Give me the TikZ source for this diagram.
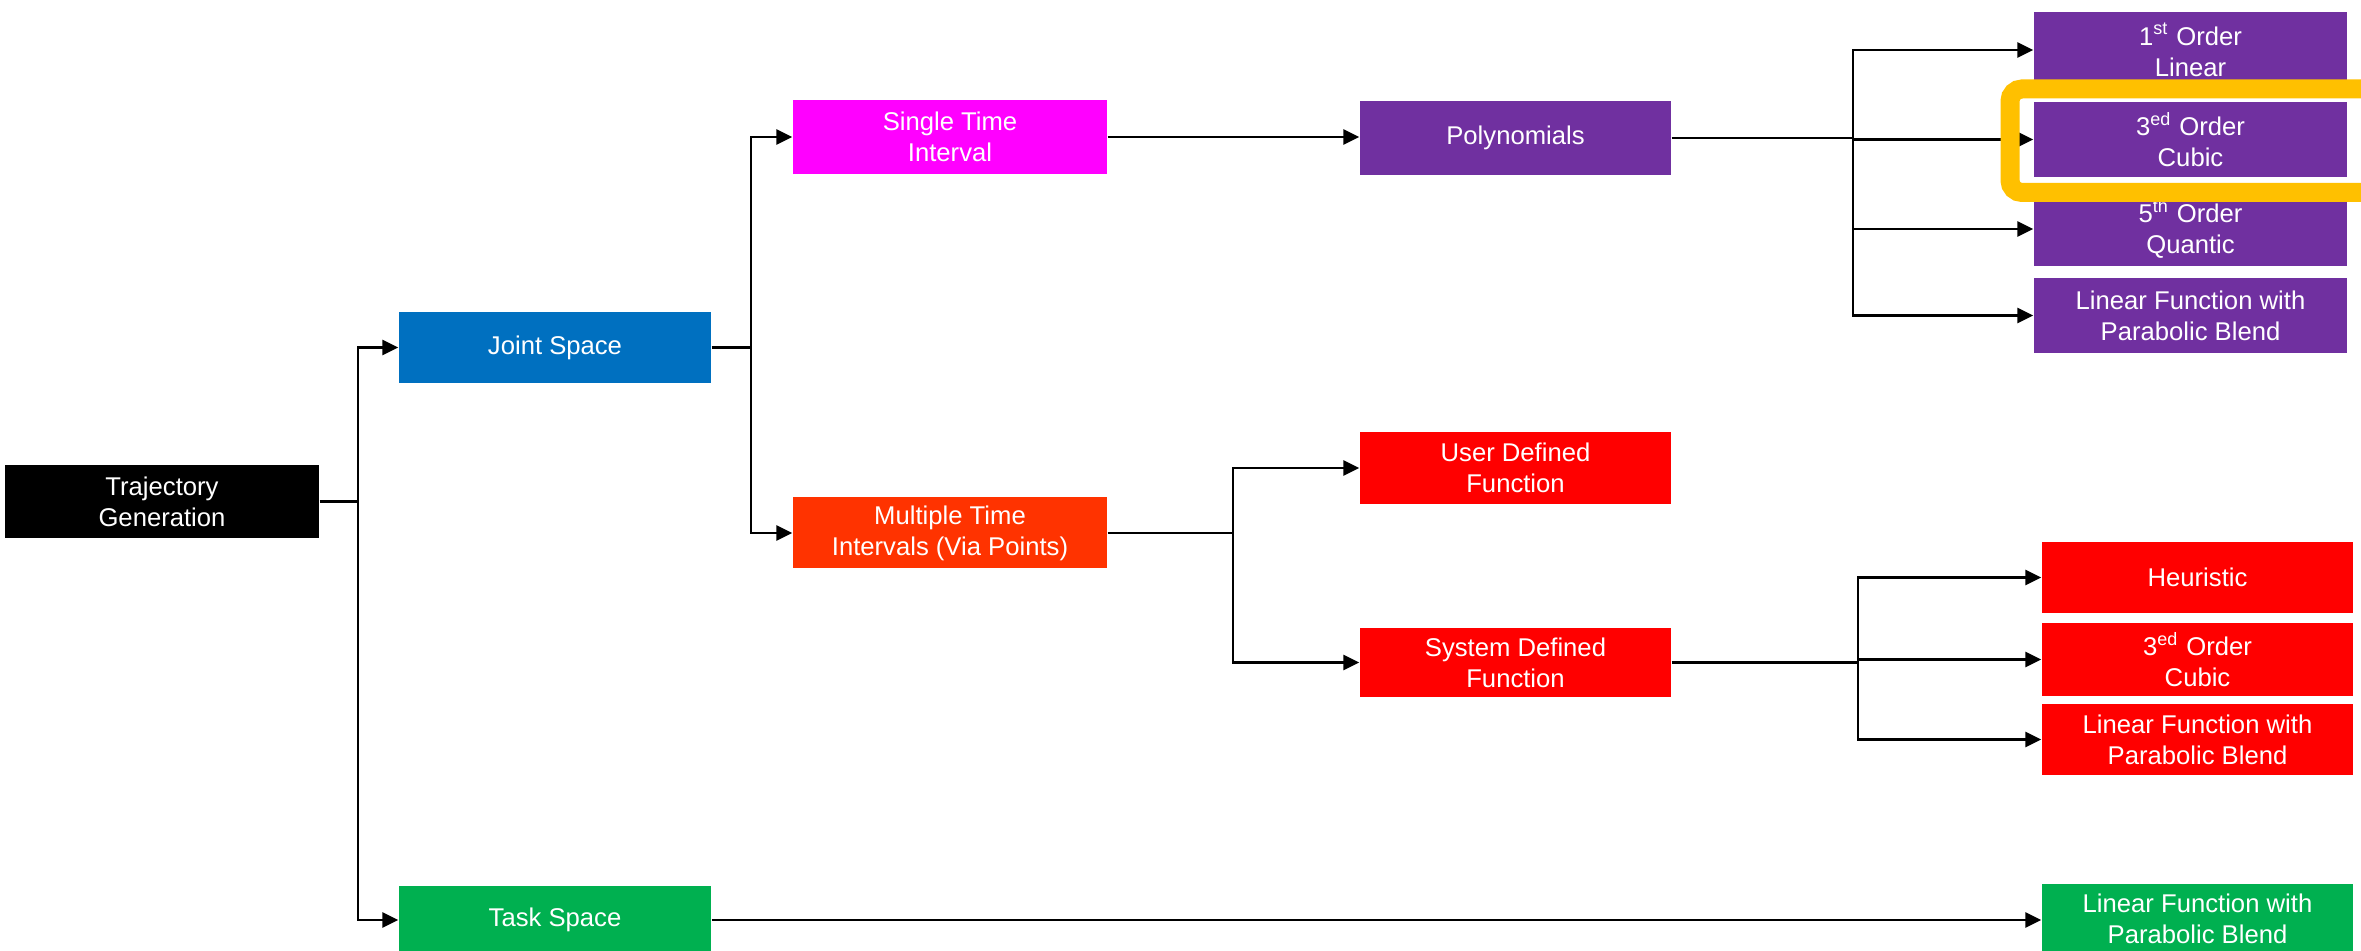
\documentclass[tikz,border=0pt]{standalone}
\usepackage{fontspec}
\setmainfont{Liberation Sans}
\usetikzlibrary{arrows.meta}
\definecolor{cpurple}{HTML}{7030A0}
\definecolor{cmagenta}{HTML}{FF00FF}
\definecolor{cblue}{HTML}{0070C0}
\definecolor{corange}{HTML}{FF3300}
\definecolor{cred}{HTML}{FF0000}
\definecolor{cgreen}{HTML}{00B050}
\definecolor{cyellow}{HTML}{FFC000}
\tikzset{
  box/.style={rectangle, inner sep=0pt, text=white, align=center,
    font=\fontsize{7.3}{8.8}\selectfont, minimum width=3.12cm},
  arr/.style={line width=0.8pt, -{Triangle[length=0.16cm,width=0.15cm]}},
  ln/.style={line width=0.8pt},
}
\begin{document}
\begin{tikzpicture}
\useasboundingbox (0,0) rectangle (23.61,-9.51);
\begin{scope}
\clip (0,0) rectangle (23.61,-9.51);
% nodes
\node[box, fill=black, minimum width=3.14cm, minimum height=0.73cm] (tg) at (1.62,-5.015) {Trajectory\\Generation};
\node[box, fill=cblue, minimum height=0.71cm] (js) at (5.55,-3.475) {Joint Space};
\node[box, fill=cgreen, minimum height=0.68cm] (ts) at (5.55,-9.20) {Task Space};
\node[box, fill=cmagenta, minimum width=3.14cm, minimum height=0.74cm] (sti) at (9.50,-1.37) {Single Time\\Interval};
\node[box, fill=corange, minimum width=3.14cm, minimum height=0.71cm] (mti) at (9.50,-5.33) {Multiple Time\\Intervals (Via Points)};
\node[box, fill=cpurple, minimum width=3.11cm, minimum height=0.74cm] (poly) at (15.155,-1.38) {Polynomials};
\node[box, fill=cred, minimum width=3.11cm, minimum height=0.72cm] (udf) at (15.155,-4.68) {User Defined\\Function};
\node[box, fill=cred, minimum width=3.11cm, minimum height=0.69cm] (sdf) at (15.155,-6.625) {System Defined\\Function};
\node[box, fill=cpurple, minimum width=3.13cm, minimum height=0.76cm] (p1) at (21.905,-0.50) {1\textsuperscript{st} Order\\Linear};
\node[box, fill=cpurple, minimum width=3.13cm, minimum height=0.75cm] (p3) at (21.905,-1.395) {3\textsuperscript{ed} Order\\Cubic};
\node[box, fill=cpurple, minimum width=3.13cm, minimum height=0.74cm] (p5) at (21.905,-2.29) {5\textsuperscript{th} Order\\Quantic};
\node[box, fill=cpurple, minimum width=3.13cm, minimum height=0.75cm] (pl) at (21.905,-3.155) {Linear Function with\\Parabolic Blend};
\node[box, fill=cred, minimum width=3.11cm, minimum height=0.71cm] (rh) at (21.975,-5.775) {Heuristic};
\node[box, fill=cred, minimum width=3.11cm, minimum height=0.73cm] (r3) at (21.975,-6.595) {3\textsuperscript{ed} Order\\Cubic};
\node[box, fill=cred, minimum width=3.11cm, minimum height=0.71cm] (rl) at (21.975,-7.395) {Linear Function with\\Parabolic Blend};
\node[box, fill=cgreen, minimum width=3.11cm, minimum height=0.70cm] (gl) at (21.975,-9.19) {Linear Function with\\Parabolic Blend};
% connectors
\coordinate (t1) at (3.58,0);
\coordinate (t2) at (7.51,0);
\coordinate (t3) at (18.53,0);
\coordinate (t4) at (12.33,0);
\coordinate (t5) at (18.58,0);
\draw[ln] (tg.east) -- (tg.east -| t1);
\draw[arr] (tg.east -| t1) |- (js.west);
\draw[arr] (tg.east -| t1) |- (ts.west);
\draw[ln] (js.east) -- (js.east -| t2);
\draw[arr] (js.east -| t2) |- (sti.west);
\draw[arr] (js.east -| t2) |- (mti.west);
\draw[arr] (sti.east) -- (sti.east -| poly.west);
\draw[ln] (poly.east) -- (poly.east -| t3);
\draw[arr] (poly.east -| t3) |- (p1.west);
\draw[arr] (poly.east -| t3) |- (p3.west);
\draw[arr] (poly.east -| t3) |- (p5.west);
\draw[arr] (poly.east -| t3) |- (pl.west);
\draw[ln] (mti.east) -- (mti.east -| t4);
\draw[arr] (mti.east -| t4) |- (udf.west);
\draw[arr] (mti.east -| t4) |- (sdf.west);
\draw[ln] (sdf.east) -- (sdf.east -| t5);
\draw[arr] (sdf.east -| t5) |- (rh.west);
\draw[arr] (sdf.east -| t5) |- (r3.west);
\draw[arr] (sdf.east -| t5) |- (rl.west);
\draw[arr] (ts.east) -- (ts.east -| gl.west);
% highlight
\draw[cyellow, line width=0.19cm, rounded corners=0.12cm] (24.2,-0.89) -- (20.10,-0.89) -- (20.10,-1.925) -- (24.2,-1.925);
\end{scope}
\end{tikzpicture}
\end{document}
